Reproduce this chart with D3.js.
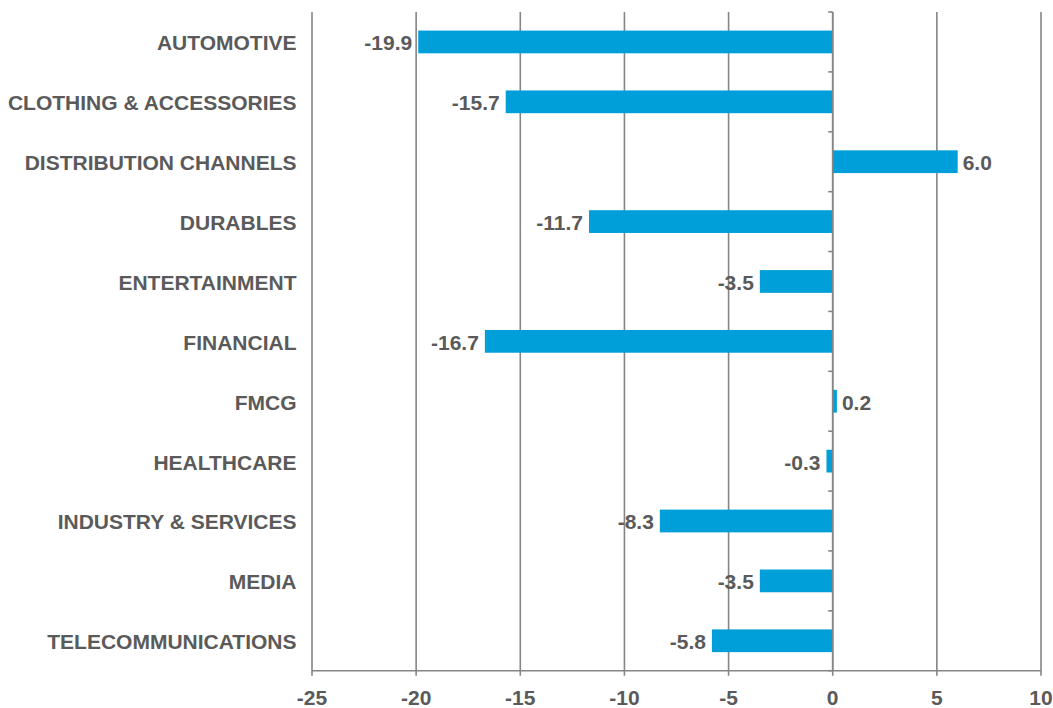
<!DOCTYPE html>
<html>
<head>
<meta charset="utf-8">
<script src="https://cdn.jsdelivr.net/npm/d3@7"></script>
<style>
  html, body { margin: 0; padding: 0; background: #fff; }
  svg { display: block; }
  text { font-family: "Liberation Sans", Arial, sans-serif; font-weight: bold; fill: #5a5a5a; }
</style>
</head>
<body>
<svg id="chart" width="1053" height="708"></svg>
<script>
const categories = ["AUTOMOTIVE", "CLOTHING & ACCESSORIES", "DISTRIBUTION CHANNELS", "DURABLES",
  "ENTERTAINMENT", "FINANCIAL", "FMCG", "HEALTHCARE", "INDUSTRY & SERVICES", "MEDIA", "TELECOMMUNICATIONS"];
const values = [-19.9, -15.7, 6.0, -11.7, -3.5, -16.7, 0.2, -0.3, -8.3, -3.5, -5.8];
const xTicks = [-25, -20, -15, -10, -5, 0, 5, 10];

const svg = d3.select("#chart");
const margin = { left: 312, right: 12, top: 12, bottom: 37.3 };
const W = 1053, H = 708;
const x = d3.scaleLinear().domain([-25, 10]).range([margin.left, W - margin.right]);
const y = d3.scaleBand().domain(categories).range([margin.top, H - margin.bottom])
  .paddingInner(0.62).paddingOuter(0.31);
const step = y.step();
const y0 = y.range()[0], y1 = y.range()[1];
const fs = 21;

// gridlines + bottom ticks
svg.append("g").selectAll("line").data(xTicks).join("line")
  .attr("x1", d => x(d)).attr("x2", d => x(d))
  .attr("y1", y0).attr("y2", y1 + 5)
  .attr("stroke", "#858585").attr("stroke-width", 1.6);

// bottom axis line
svg.append("line").attr("x1", x(-25)).attr("x2", x(10)).attr("y1", y1).attr("y2", y1)
  .attr("stroke", "#858585").attr("stroke-width", 1.6);

// tick labels
svg.append("g").selectAll("text").data(xTicks).join("text")
  .attr("x", d => x(d)).attr("y", y1 + 34.5)
  .attr("text-anchor", "middle").attr("font-size", fs)
  .text(d => d);

// bars
svg.append("g").selectAll("rect").data(values).join("rect")
  .attr("x", d => x(Math.min(0, d)))
  .attr("width", d => Math.abs(x(d) - x(0)))
  .attr("y", (d, i) => y(categories[i]))
  .attr("height", y.bandwidth())
  .attr("fill", "#009fd9");

// zero axis with category ticks
svg.append("line").attr("x1", x(0)).attr("x2", x(0)).attr("y1", y0).attr("y2", y1)
  .attr("stroke", "#858585").attr("stroke-width", 1.6);
svg.append("g").selectAll("line").data(d3.range(categories.length + 1)).join("line")
  .attr("x1", x(0) - 4.5).attr("x2", x(0))
  .attr("y1", i => y0 + i * step).attr("y2", i => y0 + i * step)
  .attr("stroke", "#858585").attr("stroke-width", 1.6);

// category labels
svg.append("g").selectAll("text").data(categories).join("text")
  .attr("x", margin.left - 15.5)
  .attr("y", d => y(d) + y.bandwidth() / 2 + 8.5)
  .attr("text-anchor", "end").attr("font-size", fs)
  .text(d => d);

// value labels
svg.append("g").selectAll("text").data(values).join("text")
  .attr("x", d => d < 0 ? x(d) - 6 : x(d) + 5)
  .attr("y", (d, i) => y(categories[i]) + y.bandwidth() / 2 + 8.5)
  .attr("text-anchor", d => d < 0 ? "end" : "start").attr("font-size", fs)
  .text(d => d.toFixed(1));
</script>
</body>
</html>
